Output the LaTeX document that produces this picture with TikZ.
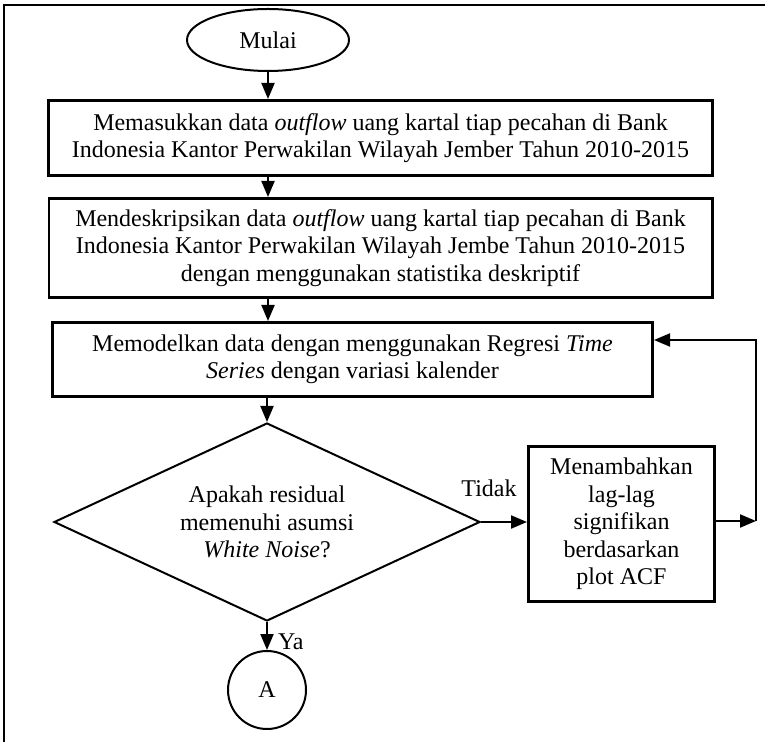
\documentclass[tikz,border=0pt]{standalone}
\usepackage{fontspec}
\setmainfont{Liberation Serif}
\usetikzlibrary{shapes.geometric,arrows.meta,positioning,calc}
\tikzstyle{startstop} = [ellipse, draw, line width=1pt, minimum width=81pt,
  minimum height=31pt, inner sep=0pt, font=\fontsize{12}{13.75}\selectfont]
\tikzstyle{process} = [rectangle, draw, line width=1.3pt, align=center,
  inner sep=2pt, font=\fontsize{12}{13.75}\selectfont]
\tikzstyle{decision} = [diamond, draw, line width=1pt, aspect=2.14, align=center,
  minimum width=213pt, minimum height=99pt, inner sep=0pt,
  font=\fontsize{12}{13.75}\selectfont]
\tikzstyle{connector} = [circle, draw, line width=1pt, minimum size=39pt,
  inner sep=0pt, font=\fontsize{12}{13.75}\selectfont]
\tikzstyle{lbl} = [font=\fontsize{12}{13.75}\selectfont, inner sep=0pt]
\tikzstyle{line} = [draw, -{Triangle[length=8pt,width=6.5pt]}, line width=1pt]

\begin{document}
\begin{tikzpicture}[x=0.5pt, y=-0.5pt]
\useasboundingbox (0,0) rectangle (765,742);

% outer frame
\draw[line width=1pt] (4,760) |- (770,5);

% ==========================================
% START AND INPUT
% ==========================================
\node[startstop] (mulai) at (268,40) {Mulai};
\node[process, minimum width=332.2pt, minimum height=37.7pt] (input)
  [below=13.5pt of mulai, xshift=56.25pt]
  {Memasukkan data \emph{outflow} uang kartal tiap pecahan di Bank\\
   Indonesia Kantor Perwakilan Wilayah Jember Tahun 2010-2015};
\node[process, minimum width=331.7pt, minimum height=49.7pt] (desc)
  [below=10pt of input]
  {Mendeskripsikan data \emph{outflow} uang kartal tiap pecahan di Bank\\
   Indonesia Kantor Perwakilan Wilayah Jembe Tahun 2010-2015\\
   dengan menggunakan statistika deskriptif};

% ==========================================
% MODEL AND CHECK
% ==========================================
\node[process, minimum width=300.2pt, minimum height=37.2pt] (model)
  [below=11pt of desc, xshift=-14pt]
  {Memodelkan data dengan menggunakan Regresi \emph{Time}\\
   \emph{Series} dengan variasi kalender};
\node[decision] (cek) [below=12pt of model, xshift=-42.75pt]
  {Apakah residual\\memenuhi asumsi\\\emph{White Noise}?};
\node[process, minimum width=93.2pt, minimum height=77.7pt] (tambah)
  [right=23pt of cek, yshift=-1pt]
  {Menambahkan\\lag-lag\\signifikan\\berdasarkan\\plot ACF};
\node[connector] (selesai) [below=14pt of cek] {A};

% Connectors
\coordinate (kanan) at (756,521);
\coordinate (atas) at (756,340);
\draw[line] (mulai.south) -- (mulai.south |- input.north);
\draw[line] (mulai.south |- input.south) -- (mulai.south |- desc.north);
\draw[line] (mulai.south |- desc.south) -- (mulai.south |- model.north);
\draw[line] (cek.north |- model.south) -- (cek.north);
\draw[line] (cek.east) -- (tambah.west |- cek.east);
\node[lbl] (tidak) at (489,488) {Tidak};
\draw[line] (tambah.east |- kanan) -- (kanan);
\draw[line] (kanan) -- (atas) -- (atas -| model.east);
\draw[line] (cek.south) -- (selesai.north)
  node[lbl, midway, right=5pt, yshift=-3pt] {Ya};

\end{tikzpicture}
\end{document}
